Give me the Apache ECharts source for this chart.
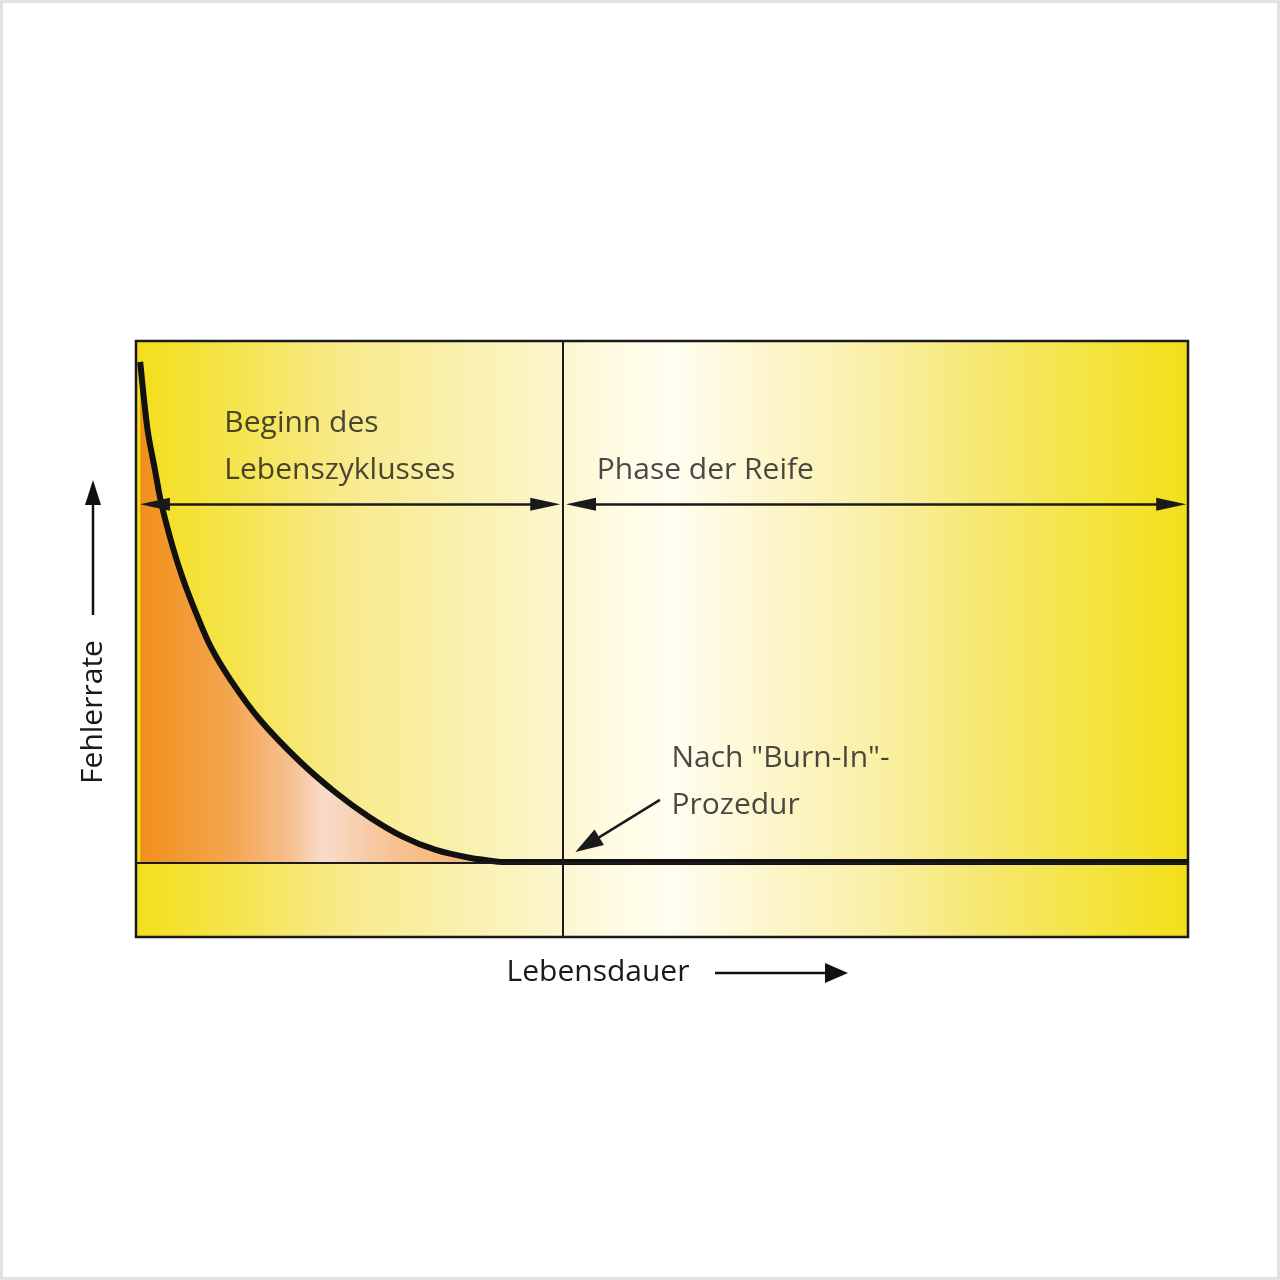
<!DOCTYPE html>
<html lang="de">
<head>
    <meta charset="utf-8">
    <script src="https://cdn.jsdelivr.net/npm/echarts@6/dist/echarts.min.js"></script>
    <style>
        html, body {
            margin: 0px;
            padding: 0px;
            width: 100%;
            height: 100%;
            background: #fff;
        }

        #chart {
            width: 1280px;
            height: 1280px;
        }
    </style>
    <title>Fehlerrate über Lebensdauer</title>
</head>
<body>
<div id="chart"></div>
<script type="text/javascript">
    // Achsen laufen jeweils von 0 bis 100 (Anteil der Lebensdauer / Fehlerrate)
    var curveX = [0.4, 1.1, 1.8, 2.4, 3.5, 4.5, 5.7, 7.1, 9.0, 11.8, 15.6, 19.0, 22.2, 25.4, 28.5, 31.7, 34.6];
    var curveY = [96.5, 85.1, 78.4, 72.8, 65.4, 59.9, 54.4, 48.7, 43.1, 36.4, 29.4, 24.2, 20.1, 16.8, 14.6, 13.3, 12.6];
    var flatX = [34.6, 100];
    var flatY = [12.6, 12.6];

    var baseLevel = 12.4;      // dünne Grundlinie
    var phaseBorder = 40.6;    // Grenze zwischen den Phasen
    var arrowLevel = 72.6;     // Höhe der Phasenpfeile
    var phaseArrows = [[1.8, 38.9], [42.3, 98.4]];
    var burnInArrow = [[49.8, 23.0], [42.9, 15.5]];

    var labelTexts = ['Beginn des', 'Lebenszyklusses', 'Phase der Reife', 'Nach "Burn-In"-', 'Prozedur'];
    var labelX = [8.4, 8.4, 43.8, 50.9, 50.9];
    var labelY = [86.1, 78.2, 78.2, 30.0, 22.1];

    var fontName = '"Open Sans", "Noto Sans", sans-serif';

    function zip(xs, ys) {
        var out = [];
        for (var i = 0; i < xs.length; i++) {
            out.push([xs[i], ys[i]]);
        }
        return out;
    }

    var labelData = [];
    for (var i = 0; i < labelTexts.length; i++) {
        labelData.push([labelX[i], labelY[i], labelTexts[i]]);
    }

    var arrowLines = [];
    for (var j in phaseArrows) {
        arrowLines.push([
            {coord: [phaseArrows[j][0], arrowLevel]},
            {coord: [phaseArrows[j][1], arrowLevel]}
        ]);
    }

    var myChart = echarts.init(document.getElementById('chart'), null, {renderer: 'canvas'});

    var option = {
        animation: false,
        grid: {
            left: 136,
            right: 92,
            top: 341,
            bottom: 343,
            show: true,
            borderColor: '#1a1a1a',
            borderWidth: 2.5,
            backgroundColor: new echarts.graphic.LinearGradient(0, 0, 1, 0, [
                {offset: 0, color: '#f3df1a'},
                {offset: 0.1, color: '#f5e450'},
                {offset: 0.2, color: '#f8ea8c'},
                {offset: 0.3, color: '#f9f0aa'},
                {offset: 0.405, color: '#fcf6cf'},
                {offset: 0.406, color: '#fdf6d0'},
                {offset: 0.45, color: '#fffbe2'},
                {offset: 0.51, color: '#fffef0'},
                {offset: 0.6, color: '#fdf6cc'},
                {offset: 0.7, color: '#faf0a8'},
                {offset: 0.8, color: '#f6e872'},
                {offset: 0.9, color: '#f4e444'},
                {offset: 1, color: '#f3df18'}
            ])
        },
        xAxis: {
            type: 'value',
            min: 0,
            max: 100,
            axisLine: {show: false},
            axisTick: {show: false},
            axisLabel: {show: false},
            splitLine: {show: false}
        },
        yAxis: {
            type: 'value',
            min: 0,
            max: 100,
            axisLine: {show: false},
            axisTick: {show: false},
            axisLabel: {show: false},
            splitLine: {show: false}
        },
        series: [
            {
                name: 'Grundlinien',
                type: 'line',
                data: [],
                silent: true,
                markLine: {
                    silent: true,
                    symbol: ['none', 'none'],
                    label: {show: false},
                    lineStyle: {color: '#1a1a1a', width: 2, type: 'solid'},
                    data: [
                        {xAxis: phaseBorder},
                        {yAxis: baseLevel}
                    ]
                }
            },
            {
                name: 'Frühausfälle',
                type: 'line',
                data: zip(curveX, curveY),
                smooth: 0.3,
                showSymbol: false,
                symbol: 'none',
                lineStyle: {color: '#111', width: 6},
                areaStyle: {
                    origin: baseLevel,
                    opacity: 1,
                    color: new echarts.graphic.LinearGradient(0, 0, 1, 0, [
                        {offset: 0, color: '#f0901a'},
                        {offset: 0.25, color: '#f4a550'},
                        {offset: 0.42, color: '#f6c090'},
                        {offset: 0.51, color: '#f9dccc'},
                        {offset: 0.7, color: '#f7c292'},
                        {offset: 1, color: '#f5b070'}
                    ])
                },
                z: 3
            },
            {
                name: 'Reife',
                type: 'line',
                data: zip(flatX, flatY),
                showSymbol: false,
                symbol: 'none',
                lineStyle: {color: '#111', width: 6},
                z: 3,
                markLine: {
                    silent: true,
                    symbol: ['triangle', 'triangle'],
                    symbolSize: [13, 30],
                    label: {show: false},
                    lineStyle: {color: '#1a1a1a', width: 2.5, type: 'solid'},
                    data: arrowLines.concat([[
                        {coord: burnInArrow[0], symbol: 'none'},
                        {coord: burnInArrow[1], symbol: 'triangle', symbolSize: [18, 28]}
                    ]])
                }
            },
            {
                name: 'Beschriftung',
                type: 'scatter',
                data: labelData,
                symbolSize: 0,
                silent: true,
                label: {
                    show: true,
                    position: 'right',
                    distance: 0,
                    formatter: function (p) {
                        return p.value[2];
                    },
                    color: '#1a1a1a',
                    fontSize: 30,
                    fontFamily: fontName
                },
                z: 4
            }
        ],
        graphic: [
            {
                type: 'rect',
                shape: {x: 1.5, y: 1.5, width: 1277, height: 1277},
                style: {fill: 'none', stroke: '#e2e2e2', lineWidth: 3},
                silent: true
            },
            {
                type: 'text',
                x: 93,
                y: 712,
                rotation: Math.PI / 2,
                style: {
                    text: 'Fehlerrate',
                    fill: '#1a1a1a',
                    font: '30px ' + fontName,
                    align: 'center',
                    verticalAlign: 'middle'
                }
            },
            {
                type: 'line',
                shape: {x1: 93, y1: 615, x2: 93, y2: 500},
                style: {stroke: '#111', lineWidth: 2.5}
            },
            {
                type: 'polygon',
                shape: {points: [[93, 480], [85, 505], [101, 505]]},
                style: {fill: '#111'}
            },
            {
                type: 'text',
                x: 598,
                y: 972,
                style: {
                    text: 'Lebensdauer',
                    fill: '#1a1a1a',
                    font: '30px ' + fontName,
                    align: 'center',
                    verticalAlign: 'middle'
                }
            },
            {
                type: 'line',
                shape: {x1: 715, y1: 973, x2: 830, y2: 973},
                style: {stroke: '#111', lineWidth: 2.5}
            },
            {
                type: 'polygon',
                shape: {points: [[848, 973], [825, 963], [825, 983]]},
                style: {fill: '#111'}
            }
        ]
    };

    myChart.setOption(option, true);
</script>
</body>
</html>
